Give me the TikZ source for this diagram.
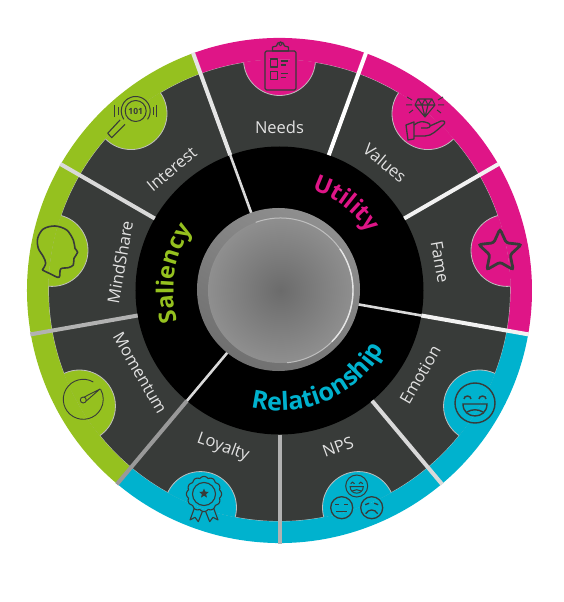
\documentclass[tikz,border=0pt]{standalone}
\usepackage{fontspec}
\setmainfont{Open Sans}
\usetikzlibrary{decorations.text,shapes.geometric}
\definecolor{pinkband}{HTML}{DF1587}
\definecolor{cyanband}{HTML}{00B2CE}
\definecolor{greenband}{HTML}{95C11F}
\definecolor{darkseg}{HTML}{383B39}
\definecolor{labtext}{HTML}{E2E2E2}
\newcommand{\catfont}{\fontsize{23.5}{23.5}\selectfont\bfseries}
\tikzset{
  laughface/.pic={
    \draw (0,0) circle[radius=20];
    \draw (-11,4) arc (180:0:3.5 and 3);
    \draw (4,4) arc (180:0:3.5 and 3);
    \draw (-12,-1) -- (12,-1) .. controls (12,-17) and (-12,-17) .. (-12,-1) -- cycle;
    \draw (-8,-9) .. controls (-3,-6) and (3,-6) .. (8,-9);
  }
}
\begin{document}
\begin{tikzpicture}[
  x=1pt, y=1pt,
  lab/.style={text=labtext, font=\fontsize{16.5}{16.5}\selectfont, inner sep=0pt},
  seg/.style={line width=4pt, line cap=butt},
  hub/.style={line width=2.6pt, draw=black!15},
  icon/.style={draw=darkseg, line width=1.3pt, line join=round},
  scoop/.style={draw=black!25, line width=0.8pt}
]
  \useasboundingbox (-279.5,-311.5) rectangle (284.5,290.5);

  \fill[darkseg, draw=black!25, line width=0.8pt] (0,0) circle[radius=231];
  \begin{scope}
    \clip (0,0) circle[radius=231];
    \foreach \ang/\col in {90/pinkband,50/pinkband,10/pinkband,-30/cyanband,-70/cyanband,-110/cyanband,-150/greenband,170/greenband,130/greenband}
      \fill[\col, scoop] (\ang:231) circle[radius=36];
  \end{scope}

  \fill[pinkband] (110:252.5) arc (110:-10:252.5) -- (-10:231) arc (-10:110:231) -- cycle;
  \fill[cyanband] (-10:252.5) arc (-10:-130:252.5) -- (-130:231) arc (-130:-10:231) -- cycle;
  \fill[greenband] (-130:252.5) arc (-130:-250:252.5) -- (-250:231) arc (-250:-130:231) -- cycle;

  \fill[black] (0,0) circle[radius=144];

  \foreach \ang/\col in {110/black!10,70/white,30/white!95!black,-10/white!95!black,-50/black!15,-90/black!30,-130/black!40,-170/black!30,150/black!15}
    \draw[seg, draw=\col] (\ang:144) -- (\ang:253);
  \foreach \ang in {110,-10,-130}
    \draw[hub] (\ang:80) -- (\ang:144);

  \shade[top color=black!44, bottom color=black!56, shading angle=-30] (-1,1) circle[radius=81.5];
  \shade[inner color=black!58, outer color=black!44] (1,0) circle[radius=72.5];
  \draw[black!25, line width=1pt] (1,0) ++(110:72.5) arc (110:-85:72.5);
  \draw[white!90!black, line width=1.4pt] (1,0) ++(35:72.5) arc (35:-45:72.5);

  \foreach \ang/\rad/\rot/\txt/\nm in {90/163.5/0/Needs/needs,50.4/165.5/-40/Values/values,10/163/-80/Fame/fame,-31/164/60/Emotion/emotion,-69.5/167/20/NPS/nps,-109.8/166.6/-20/Loyalty/loyalty,-149.4/162/-60/Momentum/momentum,169.9/162/80/MindShare/mindshare,131.6/162.4/40/Interest/interest}
    \node[lab, rotate=\rot] (\nm) at (\ang:\rad) {\txt};

  \path[decorate, decoration={text along path, text align=center, text={|\catfont\color{pinkband}|Utility}}]
    (102.5:106) arc (102.5:2.5:106);
  \path[decorate, decoration={text along path, text align=center, text={|\catfont\color{greenband}|Saliency}}]
    (221:106) arc (221:121:106);
  \path[decorate, decoration={text along path, text align=center, text={|\fontsize{25}{25}\selectfont\bfseries\color{cyanband}|Relationship}}]
    (218.5:120) arc (218.5:368.5:120);

  % clipboard
  \begin{scope}[shift={(1,220.5)}, icon/.append style={line width=1.2pt}]
    \draw[icon, rounded corners=1.5pt] (-15.5,-20) rectangle (15.5,19);
    \draw[icon] (-8,19) -- (-8,23) -- (-4,24) arc (180:0:4) -- (8,23) -- (8,19) -- cycle;
    \draw[icon, line width=0.9pt] (0,26) circle[radius=1.8];
    \draw[icon] (-9.8,3) rectangle (-3.2,11);
    \draw[icon] (-9.8,-9.7) rectangle (-3.2,-1.7);
    \draw[icon] (0.2,9) -- (7.8,9) (0.2,5) -- (5,5) (0.2,-3.7) -- (7.8,-3.7) (0.2,-7.7) -- (5,-7.7);
  \end{scope}

  % gem on a hand
  \begin{scope}[shift={(145.5,172.5)}]
    \draw[icon, line width=1.1pt] (-7,19) -- (7,19) -- (10,13) -- (0,1) -- (-10,13) -- cycle
      (-10,13) -- (10,13) (-7,19) -- (-3,13) -- (0,19) -- (3,13) -- (7,19) (-3,13) -- (0,1) -- (3,13);
    \draw[icon, line width=1pt] (-13,18) -- (-18,21) (-13,13) -- (-19,13) (-12,8) -- (-16,5)
      (13,18) -- (18,21) (13,13) -- (19,13) (12,8) -- (16,5);
    \draw[icon, line join=round] (-19,-7) -- (-11,-4) -- (-11,-21) -- (-17,-22) -- cycle;
    \draw[icon] (-11,-7) .. controls (-6,-3) and (-2,-3) .. (3,-5) .. controls (6,-6) and (6,-10) .. (2,-10) -- (-4,-10)
      (5,-8) -- (16,-3) .. controls (20,-2) and (21,-5) .. (18,-7) .. controls (12,-12) and (7,-18) .. (0,-18) -- (-11,-18);
  \end{scope}

  % star
  \node[star, star points=5, star point ratio=2.1, draw=darkseg, line width=2.8pt, rounded corners=2.5pt,
    minimum size=45pt, inner sep=0pt] (starmark) at (220.5,39) {};

  % faces
  \pic[draw=darkseg, line width=1.4pt] at (195.5,-112.5) {laughface};
  \pic[draw=darkseg, line width=1pt, scale=0.55] at (77.2,-195.5) {laughface};
  \begin{scope}[shift={(62.2,-217.2)}]
    \draw[icon] (0,0) circle[radius=11];
    \draw[icon] (-6.5,3.5) -- (-2.5,3.5) (2.5,3.5) -- (6.5,3.5) (-5.5,-3.5) -- (5.5,-3.5);
  \end{scope}
  \begin{scope}[shift={(92.2,-217.2)}]
    \draw[icon] (0,0) circle[radius=11];
    \draw[icon] (-6.5,3) -- (-2.5,4.5) (2.5,4.5) -- (6.5,3) (-6,-6) .. controls (-3,-1) and (3,-1) .. (6,-6);
  \end{scope}

  % rosette
  \begin{scope}[shift={(-75.5,-203.5)}]
    \draw[icon, line width=1.1pt] plot[domain=0:360, samples=121, smooth] (\x:{16+1.6*abs(cos(6*\x))}) -- cycle;
    \draw[icon, line width=1.1pt] (0,0) circle[radius=11.5];
    \node[star, star points=5, star point ratio=2.2, fill=darkseg, minimum size=10pt, inner sep=0pt] (rosettestar) at (0,0.5) {};
    \draw[icon, line width=1.1pt] (-9.7,-14.3) -- (-14,-26) -- (-9,-23.3) -- (-5.7,-27.7) -- (-1.7,-17.7);
    \draw[icon, line width=1.1pt] (9.7,-14.3) -- (14,-26) -- (9,-23.3) -- (5.7,-27.7) -- (1.7,-17.7);
  \end{scope}

  % gauge
  \begin{scope}[shift={(-196.2,-108.8)}, icon/.append style={line width=0.9pt}]
    \draw[icon] (60:20) arc (60:390:20);
    \draw[icon] (0,-0.7) circle[radius=3];
    \draw[icon] (1,2.3) -- (16.7,10.3) -- (2.8,-1.8);
  \end{scope}

  % head
  \begin{scope}[shift={(-254.5,75.5)}, x=0.3333pt, y=-0.3333pt]
    \draw[icon, line width=1.6pt] plot[smooth, tension=0.55] coordinates {(52,165) (75,176) (102,187) (107,162)
      (130,158) (145,150) (147,130) (158,112) (150,100) (145,75) (125,45) (90,33) (55,42) (38,70) (40,100) (55,125) (62,145) (52,165)};
  \end{scope}

  % lens
  \begin{scope}[shift={(-143.8,179.5)}]
    \draw[icon, line width=1pt] (0,0) circle[radius=10.5];
    \draw[icon, line width=1pt] (-35:14.5) arc (-35:215:14.5);
    \draw[icon, line width=1pt] (-21,-6) -- (-21,6) (21,-6) -- (21,6) (-17.5,-4) -- (-17.5,4) (17.5,-4) -- (17.5,4);
    \draw[icon, line width=1.1pt] (-15.7,-9) -- (-28,-22.3) -- (-24,-26.7) -- (-10.7,-13.3);
    \node[text=darkseg, font=\fontsize{8.5}{8.5}\selectfont\bfseries, inner sep=0pt] (lensbits) at (0,0) {101};
  \end{scope}
\end{tikzpicture}
\end{document}
